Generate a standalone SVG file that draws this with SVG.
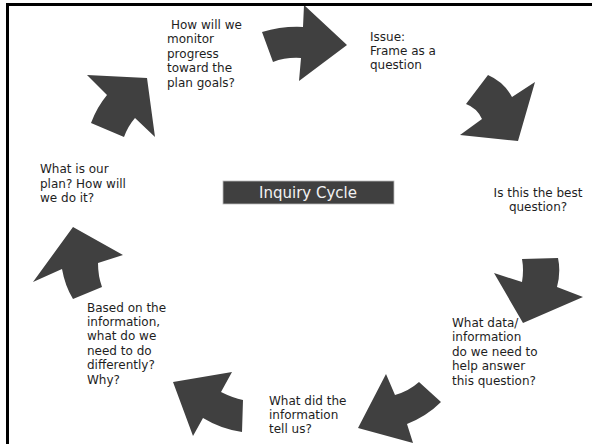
<svg xmlns="http://www.w3.org/2000/svg" width="592" height="444" viewBox="0 0 592 444">
<style>
.lbl{font-family:"DejaVu Sans",Verdana,sans-serif;font-size:12px;fill:#1e1e1e}
.arr{fill:#404040}
.frame{fill:none;stroke:#000;stroke-width:3}
</style>
<rect width="592" height="444" fill="#fff"/>
<g id="connectors">
<path id="arrow1" class="arr" d="M262,32 Q282,26 303,27 L304,5 L347,45 L299,81 L301,58 Q286,57 273,62 Z"/>
<path id="arrow2" class="arr" d="M488,75 Q504,82 512,97 L535,82 L518,141 L460,135 L482,119 Q477,108 466,104 Z"/>
<path id="arrow3" class="arr" d="M522,259 L558,258 Q561,272 557,287 L583,297 L523,323 L494,273 L522,282 Q524,270 522,259 Z"/>
<path id="arrow4" class="arr" d="M386,374 L395,395 Q409,391 419,382 L441,402 Q427,416 407,424 L413,443 L358,428 Z"/>
<path id="arrow5" class="arr" d="M173,382 L232,372 L221,392 Q233,398 243,400 L242,432 Q221,429 203,418 L193,436 Z"/>
<path id="arrow6" class="arr" d="M73,227 L123,255 L98,263 Q98,276 102,287 L73,299 Q65,286 62,269 L33,282 Z"/>
<path id="arrow7" class="arr" d="M87,75 L147,78 L155,137 L135,118 Q128,126 124,137 L91,123 Q97,107 107,95 Z"/>
</g>
<path class="frame" d="M7.5,446 V4.5 H592"/>
<g id="center">
<rect x="223" y="181" width="171" height="23" fill="#404040" stroke="#bbb" stroke-width="0.8"/>
<text x="308" y="198" text-anchor="middle" font-family="DejaVu Sans,Verdana,sans-serif" font-size="15" fill="#f2f2f2">Inquiry Cycle</text>
</g>
<g id="monitor"><text class="lbl"><tspan x="171" y="29">How will we</tspan><tspan x="167" y="43.4">monitor</tspan><tspan x="167" y="57.8">progress</tspan><tspan x="167" y="72.2">toward the</tspan><tspan x="167" y="86.6">plan goals?</tspan></text></g>
<g id="issue"><text class="lbl"><tspan x="370" y="40.5">Issue:</tspan><tspan x="370" y="54.9">Frame as a</tspan><tspan x="370" y="69.3">question</tspan></text></g>
<g id="best"><text class="lbl" text-anchor="middle"><tspan x="538" y="197">Is this the best</tspan><tspan x="538" y="211.4">question?</tspan></text></g>
<g id="data"><text class="lbl"><tspan x="452" y="327">What data/</tspan><tspan x="452" y="341.4">information</tspan><tspan x="452" y="355.8">do we need to</tspan><tspan x="452" y="370.2">help answer</tspan><tspan x="452" y="384.6">this question?</tspan></text></g>
<g id="tell"><text class="lbl"><tspan x="269" y="404.5">What did the</tspan><tspan x="269" y="418.9">information</tspan><tspan x="269" y="433.3">tell us?</tspan></text></g>
<g id="based"><text class="lbl"><tspan x="87" y="311.5">Based on the</tspan><tspan x="87" y="325.9">information,</tspan><tspan x="87" y="340.3">what do we</tspan><tspan x="87" y="354.7">need to do</tspan><tspan x="87" y="369.1">differently?</tspan><tspan x="87" y="383.5">Why?</tspan></text></g>
<g id="plan"><text class="lbl"><tspan x="40" y="173.3">What is our</tspan><tspan x="40" y="187.7">plan? How will</tspan><tspan x="40" y="202.1">we do it?</tspan></text></g>
</svg>
